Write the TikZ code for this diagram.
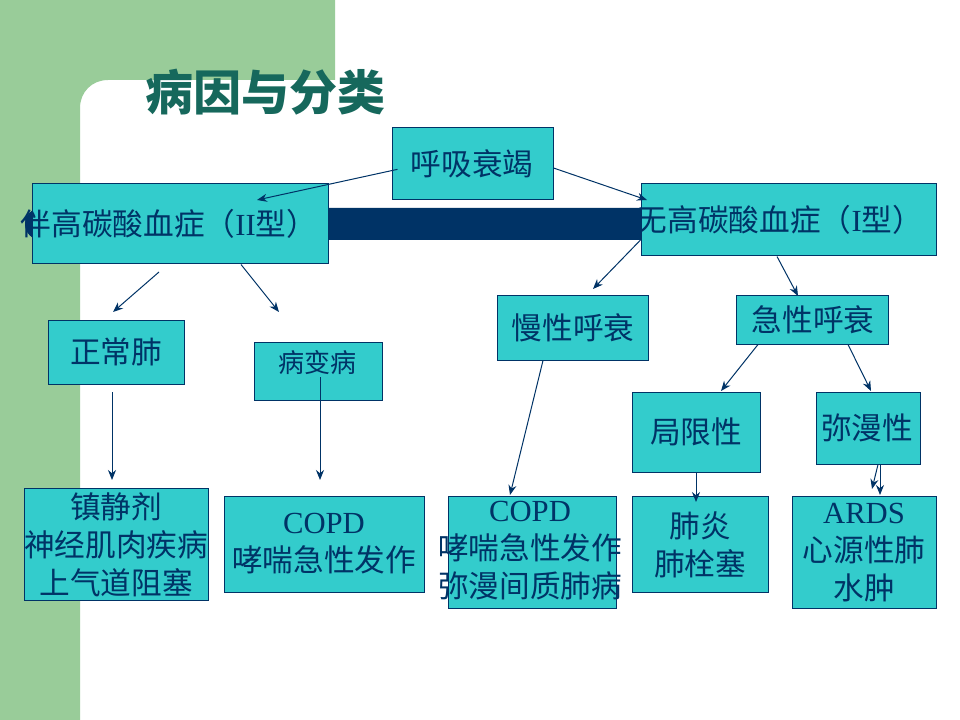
\documentclass[tikz,border=0pt]{standalone}
\usepackage{fontspec}
\setmainfont{Liberation Serif}
\newfontfamily\cjk{Noto Sans CJK SC}
\usetikzlibrary{arrows.meta,fit}
\newcommand{\hz}[1]{{\cjk #1}}

\definecolor{bggreen}{RGB}{153,204,153}
\definecolor{navy}{RGB}{0,51,102}
\definecolor{boxfill}{RGB}{51,204,204}
\definecolor{titlecol}{RGB}{22,104,92}

\tikzset{
  box/.style={draw=navy, fill=boxfill, line width=0.75pt, inner sep=0pt},
  lbl/.style={text=navy, inner sep=0.75pt, align=center, font=\fontsize{23}{28.5}\selectfont},
  arr/.style={draw=navy, line width=0.75pt, -{Stealth[length=7.5pt,width=6pt]}},
}

\begin{document}
\begin{tikzpicture}[x=0.75pt,y=0.75pt,yscale=-1,xscale=1]
    \useasboundingbox (0,0) rectangle (960,720);
    \fill[white] (0,0) rectangle (960,720);

    %Shape: green margin with rounded inner corner
    \fill[bggreen] (0,0) -- (335,0) -- (335,80) -- (108,80) .. controls (92,80) and (80,92) .. (80,108) -- (80,720) -- (0,720) -- cycle;
    %Shape: dark bar
    \fill[navy, rounded corners=12pt] (25,208) rectangle (660,240);

    % Text Node
    \node (title) [anchor=west, inner sep=0pt, text=titlecol, font=\cjk\bfseries\fontsize{36}{40}\selectfont] at (145,92) {病因与分类};

    %Shape: Rectangle (boxes)
    \node (hxsj) [box, fit={(392,128) (553,200)}] {};
    \node (ii)   [box, fit={(32,184) (328,264)}] {};
    \node (i)    [box, fit={(641,184) (936,256)}] {};
    \node (zcf)  [box, fit={(48,320) (184,384)}] {};
    \node (bbb)  [box, fit={(254,342) (382,400)}] {};
    \node (mxhs) [box, fit={(497,296) (648,360)}] {};
    \node (jxhs) [box, fit={(736,296) (888,344)}] {};
    \node (jxx)  [box, fit={(632,392) (760,472)}] {};
    \node (mmx)  [box, fit={(816,392) (920,464)}] {};
    \node (zjj)  [box, fit={(24,488) (208,600)}] {};
    \node (copda) [box, fit={(224,496) (424,592)}] {};
    \node (copdb) [box, fit={(448,496) (616,608)}] {};
    \node (fy)   [box, fit={(632,496) (768,592)}] {};
    \node (ards) [box, fit={(792,496) (936,608)}] {};

    % Text Node
    \node (hxsj-t) [lbl] at (472,164) {\hz{呼吸衰竭}};
    % Text Node
    \node (ii-t) [lbl] at (169,224) {\hz{伴高碳酸血症（}II\hz{型）}};
    % Text Node
    \node (i-t) [lbl] at (780,220) {\hz{无高碳酸血症（}I\hz{型）}};
    % Text Node
    \node (zcf-t) [lbl] at (116,352) {\hz{正常肺}};
    % Text Node
    \node (bbb-t) [lbl, font=\fontsize{19.5}{24}\selectfont] at (317,363) {\hz{病变病}};
    % Text Node
    \node (mxhs-t) [lbl] at (573,328) {\hz{慢性呼衰}};
    % Text Node
    \node (jxhs-t) [lbl] at (813,320) {\hz{急性呼衰}};
    % Text Node
    \node (jxx-t) [lbl] at (696,432) {\hz{局限性}};
    % Text Node
    \node (mmx-t) [lbl] at (867,428) {\hz{弥漫性}};
    % Text Node
    \node (zjj-t) [lbl] at (116,545) {\hz{镇静剂}\\\hz{神经肌肉疾病}\\\hz{上气道阻塞}};
    % Text Node
    \node (copda-t) [lbl] at (324,544) {COPD\\\hz{哮喘急性发作}};
    % Text Node
    \node (copdb-t) [lbl] at (530,551) {COPD\\\hz{哮喘急性发作}\\\hz{弥漫间质肺病}};
    % Text Node
    \node (fy-t) [lbl] at (700,545) {\hz{肺炎}\\\hz{肺栓塞}};
    % Text Node
    \node (ards-t) [lbl] at (864,553) {ARDS\\\hz{心源性肺}\\\hz{水肿}};

    % arrow ends
    \coordinate (ii-in) at (257,200);
    \coordinate (i-in) at (647,200);
    \coordinate (ii-l) at (159,272);
    \coordinate (zcf-in) at (113,312);
    \coordinate (bbb-in) at (279,312);
    \coordinate (zcf-out) at (112,392);
    \coordinate (zjj-in) at (112,480);
    \coordinate (bbb-out) at (320,377);
    \coordinate (copda-in) at (320,480);
    \coordinate (mxhs-in) at (593,289);
    \coordinate (jxhs-in) at (798,296);
    \coordinate (copdb-in) at (510,495);
    \coordinate (jxx-in) at (721,391);
    \coordinate (mmx-in) at (871,391);
    \coordinate (fy-in) at (696,502);
    \coordinate (ards-a) at (872,489);
    \coordinate (ards-b) at (880,495);

    % connectors
    \draw[arr] ([xshift=4.5pt,yshift=4pt]hxsj.west) -- (ii-in);
    \draw[arr] ([yshift=3pt]hxsj.east) -- (i-in);
    \draw[arr] (ii-l) -- (zcf-in);
    \draw[arr] (241,0 |- ii.south) -- (bbb-in);
    \draw[arr] (zcf-out) -- (zjj-in);
    \draw[arr] (bbb-out) -- (copda-in);
    \draw[arr] (i.west |- 0,240) -- (mxhs-in);
    \draw[arr] (777,0 |- i.south) -- (jxhs-in);
    \draw[arr] (543,0 |- mxhs.south) -- (copdb-in);
    \draw[arr] (758,0 |- jxhs.south) -- (jxx-in);
    \draw[arr] (848,0 |- jxhs.south) -- (mmx-in);
    \draw[arr] (696,0 |- jxx.south) -- (fy-in);
    \draw[arr] (878,0 |- mmx.south) -- (ards-a);
    \draw[arr] (880,0 |- mmx.south) -- (ards-b);

\end{tikzpicture}
\end{document}
